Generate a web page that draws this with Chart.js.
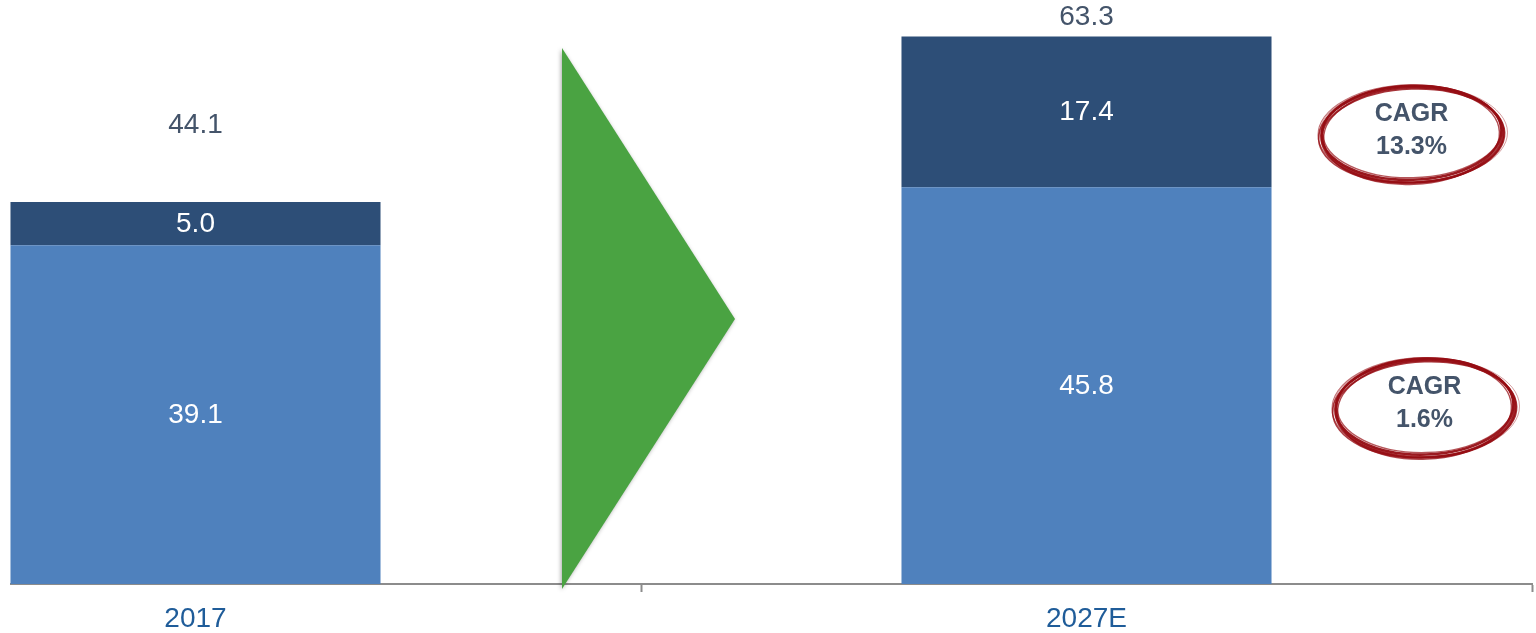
<!DOCTYPE html>
<html><head><meta charset="utf-8">
<script src="https://cdn.jsdelivr.net/npm/chart.js@4/dist/chart.umd.min.js"></script>
<style>
html,body{margin:0;padding:0;background:#fff;overflow:hidden;width:1536px;height:633px;}
#clip{position:absolute;left:10px;top:0;width:1526px;height:633px;overflow:hidden;}
#wrap{position:absolute;left:-260px;top:0;width:1786px;height:633px;}
</style></head><body>
<div id="clip"><div id="wrap"><canvas id="c" width="1786" height="633"></canvas></div></div>
<script>
const categories = ['2017', '2027E'];
const baseValues = [39.1, 45.8];
const growthValues = [5.0, 17.4];
const totals = [44.1, 63.3];
const cagrBase = ['CAGR', '1.6%'];
const cagrGrowth = ['CAGR', '13.3%'];

const FONT = '"Liberation Sans", Arial, sans-serif';

function handEllipse(ctx, cx, cy, rx, ry) {
  const strokes = [
    [0, 0, 0, 0, -0.03, 2.6, 0.95],
    [1, 1.5, 1, 1, -0.02, 2.0, 0.85],
    [-1, 2.5, 2, 0.5, -0.04, 1.6, 0.8],
    [0.5, -1, -1, -1, -0.025, 1.4, 0.7],
    [1.5, 3, 1.5, 0, -0.035, 2.0, 0.85],
    [-0.5, 1, 3, 2, -0.015, 1.1, 0.6],
    [0, 3, -2, 1.5, -0.045, 1.5, 0.75],
    [2, 0.5, 4, 1, -0.01, 0.8, 0.5]
  ];
  ctx.save();
  strokes.forEach(s => {
    ctx.beginPath();
    ctx.ellipse(cx + s[0], cy + s[1], rx + s[2], ry + s[3], s[4], 0, Math.PI * 2);
    ctx.lineWidth = s[5];
    ctx.strokeStyle = 'rgba(150,14,20,' + s[6] + ')';
    ctx.stroke();
  });
  ctx.restore();
}

const overlay = {
  id: 'overlay',
  afterDraw(chart) {
    const ctx = chart.ctx;
    const x = chart.scales.x, y = chart.scales.y;
    const m0 = chart.getDatasetMeta(0), m1 = chart.getDatasetMeta(1);
    ctx.save();
    ctx.font = '28px ' + FONT;
    ctx.textAlign = 'center';
    ctx.textBaseline = 'middle';
    ctx.fillStyle = '#ffffff';
    categories.forEach((c, i) => {
      const b = baseValues[i], g = growthValues[i];
      ctx.fillText(b.toFixed(1), m0.data[i].x, y.getPixelForValue(b / 2) + 1);
      ctx.fillText(g.toFixed(1), m1.data[i].x, y.getPixelForValue(b + g / 2) + 1);
    });
    const lift = [77, 18];
    ctx.fillStyle = '#44546A';
    categories.forEach((c, i) => {
      ctx.fillText(totals[i].toFixed(1), m1.data[i].x, y.getPixelForValue(totals[i]) - lift[i]);
    });
    const mid = (x.getPixelForValue(0) + x.getPixelForValue(1)) / 2;
    ctx.save();
    ctx.shadowColor = 'rgba(0,0,0,0.35)';
    ctx.shadowBlur = 4;
    ctx.shadowOffsetX = -1;
    ctx.shadowOffsetY = 1;
    ctx.beginPath();
    ctx.moveTo(mid - 79, 48);
    ctx.lineTo(mid + 94, 319);
    ctx.lineTo(mid - 79, 589);
    ctx.closePath();
    ctx.fillStyle = '#4AA342';
    ctx.fill();
    ctx.restore();
    const bar = m1.data[1];
    const right = bar.x + bar.width / 2;
    const e1 = { cx: right + 140, cy: y.getPixelForValue(baseValues[1] + growthValues[1] / 2) + 21, rx: 90, ry: 47, t: cagrGrowth };
    const e2 = { cx: right + 153, cy: y.getPixelForValue(baseValues[1] / 2) + 21, rx: 89, ry: 48, t: cagrBase };
    [e1, e2].forEach(e => {
      handEllipse(ctx, e.cx, e.cy, e.rx, e.ry);
      ctx.font = 'bold 25px ' + FONT;
      ctx.fillStyle = '#44546A';
      ctx.fillText(e.t[0], e.cx, e.cy - 19);
      ctx.fillText(e.t[1], e.cx, e.cy + 14);
    });
    ctx.restore();
  }
};

new Chart(document.getElementById('c'), {
  type: 'bar',
  data: {
    labels: categories,
    datasets: [
      { label: 'Base', data: baseValues, backgroundColor: '#4F81BD', borderWidth: 0 },
      { label: 'Growth', data: growthValues, backgroundColor: '#2D4E77', borderWidth: 0 }
    ]
  },
  options: {
    responsive: false,
    animation: false,
    layout: { padding: { left: 0, right: 4, top: 0, bottom: 0 } },
    plugins: { legend: { display: false }, tooltip: { enabled: false } },
    datasets: { bar: { categoryPercentage: 1, barPercentage: 0.4153 } },
    scales: {
      x: {
        stacked: true,
        offset: true,
        grid: { offset: true, drawOnChartArea: false, drawTicks: true, tickLength: 8, tickColor: '#8C8C8C', tickWidth: 2 },
        border: { display: true, color: '#8C8C8C', width: 2 },
        ticks: { color: '#1F5C99', font: { family: FONT, size: 28 }, padding: 10, maxRotation: 0 },
        afterFit(s) { s.height = 49; }
      },
      y: {
        stacked: true,
        display: false,
        min: 0,
        max: 67.4
      }
    }
  },
  plugins: [overlay]
});
</script>
</body></html>
